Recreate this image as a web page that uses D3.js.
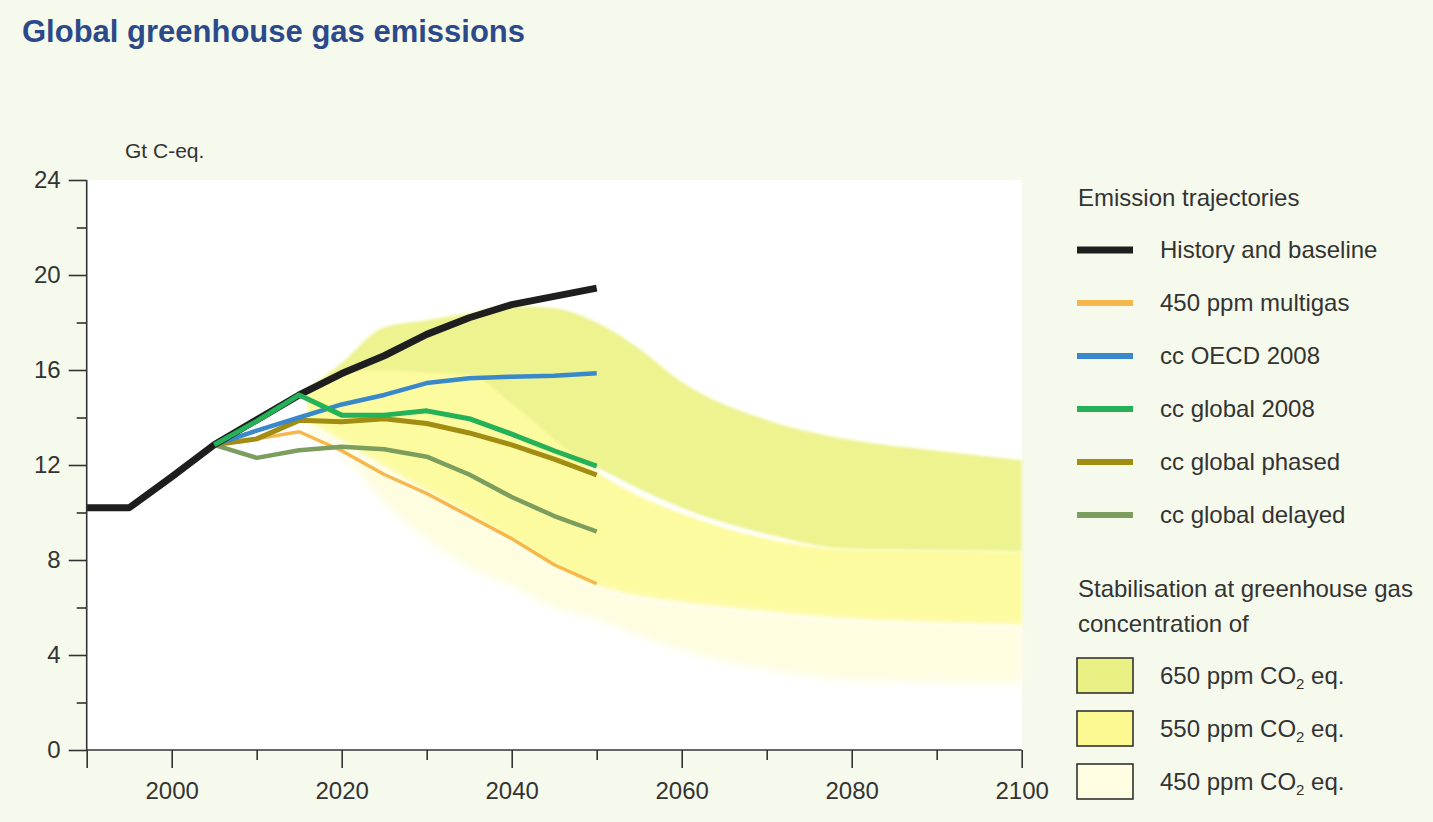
<!DOCTYPE html>
<html>
<head>
<meta charset="utf-8">
<script src="https://cdn.jsdelivr.net/npm/d3@7"></script>
<style>
  body { margin: 0; background: #f6faec; }
  svg { display: block; font-family: "Liberation Sans", Arial, sans-serif; }
</style>
</head>
<body>
<div id="chart-area"></div>
<script>
// history + baseline
var histYears = [1990, 1995, 2000, 2005, 2010, 2015, 2020, 2025, 2030, 2035, 2040, 2045, 2050];
var histBaseline = [10.2, 10.2, 11.5, 12.85, 13.9, 14.95, 15.85, 16.6, 17.5, 18.2, 18.75, 19.1, 19.45];

// scenario trajectories
var scenYears = [2005, 2010, 2015, 2020, 2025, 2030, 2035, 2040, 2045, 2050];
var multigas450 = [12.85, 13.1, 13.4, 12.6, 11.6, 10.8, 9.85, 8.9, 7.8, 7.0];
var ccOECD2008 = [12.85, 13.45, 14.0, 14.55, 14.95, 15.45, 15.65, 15.72, 15.76, 15.86];
var ccGlobal2008 = [12.85, 13.85, 14.95, 14.1, 14.1, 14.28, 13.95, 13.3, 12.6, 11.95];
var ccGlobalPhased = [12.85, 13.1, 13.88, 13.82, 13.95, 13.75, 13.35, 12.85, 12.25, 11.58];
var ccGlobalDelayed = [12.85, 12.3, 12.62, 12.77, 12.66, 12.35, 11.6, 10.65, 9.85, 9.2];

// stabilisation bands
var bandYears = [2016, 2020, 2025, 2030, 2035, 2040, 2045, 2050, 2055, 2060, 2070, 2080, 2090, 2100];
var band650Hi = [15.2, 16.3, 17.8, 18.1, 18.4, 18.7, 18.6, 18.0, 16.9, 15.5, 13.9, 13.05, 12.6, 12.2];
var band650Lo = [14.6, 15.0, 14.0, 13.8, 13.5, 13.0, 12.5, 11.9, 11.0, 10.2, 9.1, 8.45, 8.4, 8.35];
var band550Hi = [15.0, 15.9, 16.0, 15.9, 15.8, 14.6, 13.1, 11.7, 10.7, 9.95, 8.9, 8.45, 8.4, 8.35];
var band550Lo = [13.8, 13.0, 11.9, 10.9, 9.9, 8.8, 7.7, 6.9, 6.45, 6.2, 5.8, 5.5, 5.35, 5.25];
var band450Lo = [13.3, 12.5, 10.4, 8.9, 7.7, 6.9, 6.0, 5.5, 4.8, 4.2, 3.4, 2.95, 2.85, 2.8];

var yTicks = [0, 4, 8, 12, 16, 20, 24];
var yMinor = [2, 6, 10, 14, 18, 22];
var xTicks = [2000, 2020, 2040, 2060, 2080, 2100];
var xMinor = [2010, 2030, 2050, 2070, 2090];

var lineNames = ["History and baseline", "450 ppm multigas", "cc OECD 2008", "cc global 2008", "cc global phased", "cc global delayed"];
var bandNames = ["650 ppm CO", "550 ppm CO", "450 ppm CO"];

var width = 1433, height = 822;

var svg = d3.select("#chart-area").append("svg")
  .attr("width", width)
  .attr("height", height);

var defs = svg.append("defs");
defs.append("filter").attr("id", "soft").attr("x", "-5%").attr("y", "-5%").attr("width", "110%").attr("height", "110%")
  .append("feGaussianBlur").attr("stdDeviation", 1.5);
defs.append("filter").attr("id", "softer").attr("x", "-10%").attr("y", "-10%").attr("width", "120%").attr("height", "120%")
  .append("feGaussianBlur").attr("stdDeviation", 4);

var x = d3.scaleLinear().domain([1990, 2100]).range([86.7, 1021.7]);
var y = d3.scaleLinear().domain([0, 24]).range([750, 180]);

// title
svg.append("text")
  .attr("x", 22).attr("y", 42)
  .attr("font-size", "31px").attr("font-weight", "bold")
  .style("fill", "#2c4a8a")
  .text("Global greenhouse gas emissions");

svg.append("text")
  .attr("x", 125).attr("y", 158)
  .attr("font-size", "21px")
  .style("fill", "#333")
  .text("Gt C-eq.");

// white plot area
svg.append("rect")
  .attr("x", x(1990)).attr("y", y(24))
  .attr("width", x(2100) - x(1990)).attr("height", y(0) - y(24))
  .attr("fill", "#fff");

// bands
function bandData(lo, hi) {
  return bandYears.map(function (yr, i) { return {year: yr, lo: lo[i], hi: hi[i]}; });
}
var area = d3.area()
  .x(function (d) { return x(d.year); })
  .y0(function (d) { return y(d.lo); })
  .y1(function (d) { return y(d.hi); })
  .curve(d3.curveMonotoneX);

var bands = [
  {data: bandData(band650Lo, band650Hi), color: "#ecf38f", filter: "url(#soft)"},
  {data: bandData(band550Lo, band550Hi), color: "#fdfb9f", filter: "url(#soft)"},
  {data: bandData(band450Lo, band550Lo), color: "#fefde0", filter: "url(#softer)"}
];
svg.append("g").selectAll("path").data(bands).enter().append("path")
  .attr("d", function (d) { return area(d.data); })
  .attr("fill", function (d) { return d.color; })
  .attr("filter", function (d) { return d.filter; });

// trajectories (green drawn over the black between 2005 and 2015)
var series = [
  {name: lineNames[1], years: scenYears, values: multigas450, color: "#f6b74c", w: 3.5},
  {name: lineNames[5], years: scenYears, values: ccGlobalDelayed, color: "#7b9d5d", w: 4.5},
  {name: lineNames[4], years: scenYears, values: ccGlobalPhased, color: "#a08d12", w: 5},
  {name: lineNames[2], years: scenYears, values: ccOECD2008, color: "#3888cb", w: 4.5},
  {name: lineNames[0], years: histYears, values: histBaseline, color: "#1e1e1e", w: 7},
  {name: lineNames[3], years: scenYears, values: ccGlobal2008, color: "#24b157", w: 5}
];
var line = d3.line()
  .x(function (d) { return x(d[0]); })
  .y(function (d) { return y(d[1]); });

svg.append("g").selectAll("path").data(series).enter().append("path")
  .attr("d", function (d) { return line(d.years.map(function (yr, i) { return [yr, d.values[i]]; })); })
  .attr("fill", "none")
  .attr("stroke", function (d) { return d.color; })
  .attr("stroke-width", function (d) { return d.w; })
  .attr("stroke-linejoin", "round");

// axes
var yAxis = svg.append("g").attr("class", "axis")
  .attr("transform", "translate(" + x(1990) + ",0)")
  .call(d3.axisLeft(y).tickValues(yTicks).tickSize(18).tickPadding(8).tickFormat(d3.format("d")));
svg.append("g").attr("class", "axis")
  .attr("transform", "translate(" + x(1990) + ",0)")
  .call(d3.axisLeft(y).tickValues(yMinor).tickSize(10).tickFormat(""))
  .select(".domain").remove();

var xAxis = svg.append("g").attr("class", "axis")
  .attr("transform", "translate(0," + y(0) + ")")
  .call(d3.axisBottom(x).tickValues(xTicks).tickSize(18).tickPadding(14).tickFormat(d3.format("d")));
svg.append("g").attr("class", "axis")
  .attr("transform", "translate(0," + y(0) + ")")
  .call(d3.axisBottom(x).tickValues(xMinor).tickSize(10).tickFormat(""))
  .select(".domain").remove();
// tick at 1990 corner
svg.append("g").attr("class", "axis")
  .attr("transform", "translate(0," + y(0) + ")")
  .call(d3.axisBottom(x).tickValues([1990]).tickSize(18).tickFormat(""))
  .select(".domain").remove();

svg.selectAll(".axis path, .axis line").attr("stroke", "#333").attr("stroke-width", 1.6);
svg.selectAll(".axis text").attr("font-size", "24px").attr("font-family", "Liberation Sans, Arial, sans-serif").style("fill", "#333");
yAxis.select(".domain").attr("d", "M0," + y(24) + "V" + y(0));
xAxis.select(".domain").attr("d", "M" + x(1990) + ",0H" + x(2100));

// legend: trajectories
var legend = svg.append("g").attr("transform", "translate(1077,0)");
legend.append("text").attr("x", 1).attr("y", 206)
  .attr("font-size", "24px").style("fill", "#333")
  .text("Emission trajectories");

var legendOrder = ["#1e1e1e", "#f6b74c", "#3888cb", "#24b157", "#a08d12", "#7b9d5d"];
var rows = legend.selectAll("g.row").data(lineNames).enter().append("g")
  .attr("class", "row")
  .attr("transform", function (d, i) { return "translate(0," + (250 + i * 53) + ")"; });
rows.append("line")
  .attr("x1", 0).attr("x2", 56)
  .attr("stroke", function (d, i) { return legendOrder[i]; })
  .attr("stroke-width", function (d, i) { return i === 0 ? 7 : 6; });
rows.append("text")
  .attr("x", 83).attr("y", 0).attr("dy", "0.35em")
  .attr("font-size", "24px").style("fill", "#333")
  .text(function (d) { return d; });

// legend: stabilisation
legend.append("text").attr("x", 1).attr("y", 597)
  .attr("font-size", "24px").style("fill", "#333")
  .text("Stabilisation at greenhouse gas");
legend.append("text").attr("x", 1).attr("y", 632)
  .attr("font-size", "24px").style("fill", "#333")
  .text("concentration of");

var boxColors = ["#e9f185", "#fcf892", "#fefde2"];
var boxes = legend.selectAll("g.box").data(bandNames).enter().append("g")
  .attr("class", "box")
  .attr("transform", function (d, i) { return "translate(0," + (658 + i * 53) + ")"; });
boxes.append("rect")
  .attr("width", 56).attr("height", 35)
  .attr("fill", function (d, i) { return boxColors[i]; })
  .attr("stroke", "#333").attr("stroke-width", 1.6);
var bt = boxes.append("text")
  .attr("x", 83).attr("y", 26)
  .attr("font-size", "24px").style("fill", "#333");
bt.append("tspan").text(function (d) { return d; });
bt.append("tspan").attr("font-size", "15px").attr("dy", 5).text("2");
bt.append("tspan").attr("dy", -5).text(" eq.");
</script>
</body>
</html>
